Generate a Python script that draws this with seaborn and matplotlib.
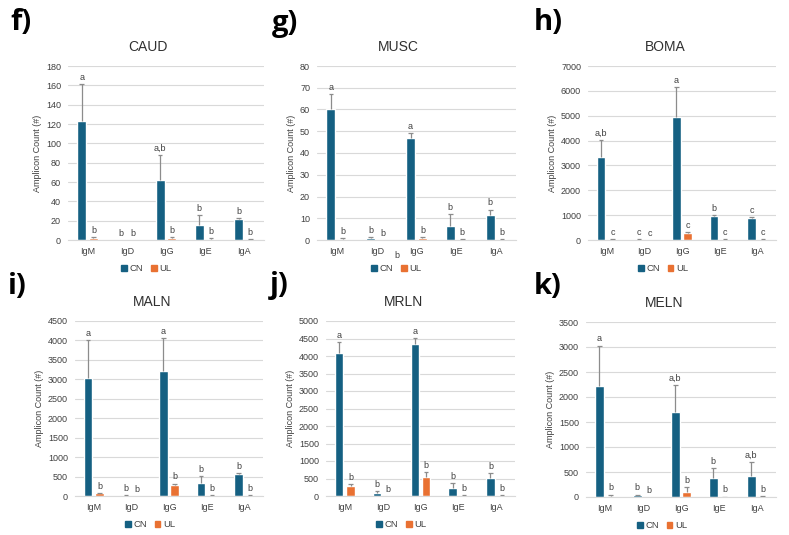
"""
plot.py
Amplicon counts per isotype (CN vs UL) for six tissues.
"""

import matplotlib
matplotlib.use("Agg")
import matplotlib.pyplot as plt
from matplotlib.patches import Patch
import seaborn as sns
import pandas as pd
import numpy as np

isotypes = ["IgM", "IgD", "IgG", "IgE", "IgA"]
groups = ["CN", "UL"]

# CAUD
caud_cn = [123, 0, 62, 16, 22]
caud_cn_err = [38, 0, 26, 10, 1]
caud_ul = [2, 0, 2, 1.5, 0.5]
caud_ul_err = [1, 0, 1.5, 0.5, 0.5]
caud_cn_lab = ["a", "b", "a,b", "b", "b"]
caud_ul_lab = ["b", "b", "b", "b", "b"]

# MUSC
musc_cn = [60, 1, 47, 6.5, 11.5]
musc_cn_err = [7, 0.3, 2, 5.5, 2.5]
musc_ul = [0.5, 0, 1, 0.3, 0.3]
musc_ul_err = [0.5, 0, 0.2, 0.1, 0.1]
musc_cn_lab = ["a", "b", "a", "b", "b"]
musc_ul_lab = ["b", "b", "b", "b", "b"]

# BOMA
boma_cn = [3350, 20, 4950, 950, 880]
boma_cn_err = [680, 10, 1200, 50, 40]
boma_ul = [40, 0, 300, 30, 20]
boma_ul_err = [10, 0, 30, 5, 5]
boma_cn_lab = ["a,b", "c", "a", "b", "c"]
boma_ul_lab = ["c", "c", "c", "c", "c"]

# MALN
maln_cn = [3030, 20, 3220, 340, 570]
maln_cn_err = [970, 10, 840, 170, 30]
maln_ul = [70, 0, 290, 10, 10]
maln_ul_err = [10, 0, 30, 5, 5]
maln_cn_lab = ["a", "b", "a", "b", "b"]
maln_ul_lab = ["b", "b", "b", "b", "b"]

# MRLN
mrln_cn = [4080, 100, 4340, 240, 520]
mrln_cn_err = [310, 30, 180, 140, 130]
mrln_ul = [280, 0, 550, 10, 15]
mrln_ul_err = [50, 0, 130, 5, 5]
mrln_cn_lab = ["a", "b", "a", "b", "b"]
mrln_ul_lab = ["b", "b", "b", "b", "b"]

# MELN
meln_cn = [2230, 40, 1700, 380, 420]
meln_cn_err = [800, 10, 550, 200, 280]
meln_ul = [30, 0, 110, 5, 10]
meln_ul_err = [20, 0, 90, 5, 5]
meln_cn_lab = ["a", "b", "a,b", "b", "a,b"]
meln_ul_lab = ["b", "b", "b", "b", "b"]

CN_COLOR = "#156082"
UL_COLOR = "#E97132"
GRID = "#d9d9d9"
TEXT = "#404040"
ERR = "#8c8c8c"

sns.set_style("white")
plt.rcParams["font.family"] = ["Liberation Sans", "DejaVu Sans"]

W, H = 789, 535
fig = plt.figure(figsize=(W / 100, H / 100), dpi=100)


def rect(x0, y_top, x1, y_bot):
    return [x0 / W, 1 - y_bot / H, (x1 - x0) / W, (y_bot - y_top) / H]


def panel(box, title, letter, letter_xy, cn, cn_err, ul, ul_err,
          cn_lab, ul_lab, ymax, step):
    ax = fig.add_axes(box)
    df = pd.DataFrame({
        "isotype": isotypes * 2,
        "group": ["CN"] * 5 + ["UL"] * 5,
        "count": list(cn) + list(ul),
    })
    sns.barplot(data=df, x="isotype", y="count", hue="group",
                palette=[CN_COLOR, UL_COLOR], hue_order=groups,
                width=0.6, gap=0.25, errorbar=None, saturation=1, ax=ax)
    if ax.get_legend():
        ax.get_legend().remove()

    # upper-only error bars with a cap on top
    for cont, vals, errs, labs in zip(ax.containers, [cn, ul],
                                      [cn_err, ul_err], [cn_lab, ul_lab]):
        for bar, v, e, lab in zip(cont, vals, errs, labs):
            x = bar.get_x() + bar.get_width() / 2
            top = v + e
            if e > 0:
                ax.vlines(x, v, top, color=ERR, linewidth=0.9, zorder=3)
                ax.hlines(top, x - 0.06, x + 0.06, color=ERR,
                          linewidth=0.9, zorder=3)
            ax.annotate(lab, (x, top), xytext=(0, 1.5),
                        textcoords="offset points", ha="center", va="bottom",
                        fontsize=6.5, color=TEXT)

    ax.set_ylim(0, ymax)
    ax.set_yticks(np.arange(0, ymax + step / 2, step))
    ax.set_xlim(-0.5, 4.5)
    ax.yaxis.grid(True, color=GRID, linewidth=0.8)
    ax.set_axisbelow(True)
    for s in ["top", "right", "left"]:
        ax.spines[s].set_visible(False)
    ax.spines["bottom"].set_color(GRID)
    ax.tick_params(axis="both", length=0, labelsize=6.5, colors=TEXT)
    ax.tick_params(axis="y", pad=5)
    ax.tick_params(axis="x", pad=5)
    ax.set_xlabel("")
    ax.set_ylabel("Amplicon Count (#)", fontsize=6.5, color=TEXT, labelpad=3)

    ax.text(0.41, 1.11, title, transform=ax.transAxes, ha="center",
            va="center", fontsize=10, color="#303030")
    handles = [Patch(color=CN_COLOR, label="CN"), Patch(color=UL_COLOR, label="UL")]
    ax.legend(handles=handles, loc="center", bbox_to_anchor=(0.4, -0.165),
              ncol=2, frameon=False, fontsize=6.8, handlelength=0.6,
              handleheight=0.6, handletextpad=0.3, columnspacing=0.8,
              labelcolor=TEXT)
    fig.text(letter_xy[0] / W, 1 - letter_xy[1] / H, letter, fontsize=21,
             fontweight="bold", family=["Open Sans", "DejaVu Sans"],
             ha="left", va="center", color="black")
    return ax


panel(rect(68, 66, 264, 240), "CAUD", "f)", (10, 23),
      caud_cn, caud_cn_err, caud_ul, caud_ul_err, caud_cn_lab, caud_ul_lab, 180, 20)
ax_m = panel(rect(317, 66, 516, 240), "MUSC", "g)", (272, 23),
             musc_cn, musc_cn_err, musc_ul, musc_ul_err, musc_cn_lab, musc_ul_lab, 80, 10)
panel(rect(588, 66, 776, 240), "BOMA", "h)", (534, 23),
      boma_cn, boma_cn_err, boma_ul, boma_ul_err, boma_cn_lab, boma_ul_lab, 7000, 1000)
panel(rect(75, 321, 263, 496), "MALN", "i)", (8, 286),
      maln_cn, maln_cn_err, maln_ul, maln_ul_err, maln_cn_lab, maln_ul_lab, 4500, 500)
panel(rect(326, 321, 515, 496), "MRLN", "j)", (270, 286),
      mrln_cn, mrln_cn_err, mrln_ul, mrln_ul_err, mrln_cn_lab, mrln_ul_lab, 5000, 500)
panel(rect(586, 322, 776, 497), "MELN", "k)", (534, 286),
      meln_cn, meln_cn_err, meln_ul, meln_ul_err, meln_cn_lab, meln_ul_lab, 3500, 500)

# stray letter below the MUSC axis in the original figure
ax_m.text(1.5, -0.09, "b", transform=ax_m.get_xaxis_transform(), ha="center",
          va="center", fontsize=6.5, color=TEXT)

fig.savefig("out.png", dpi=100, facecolor="white")
plt.close(fig)
